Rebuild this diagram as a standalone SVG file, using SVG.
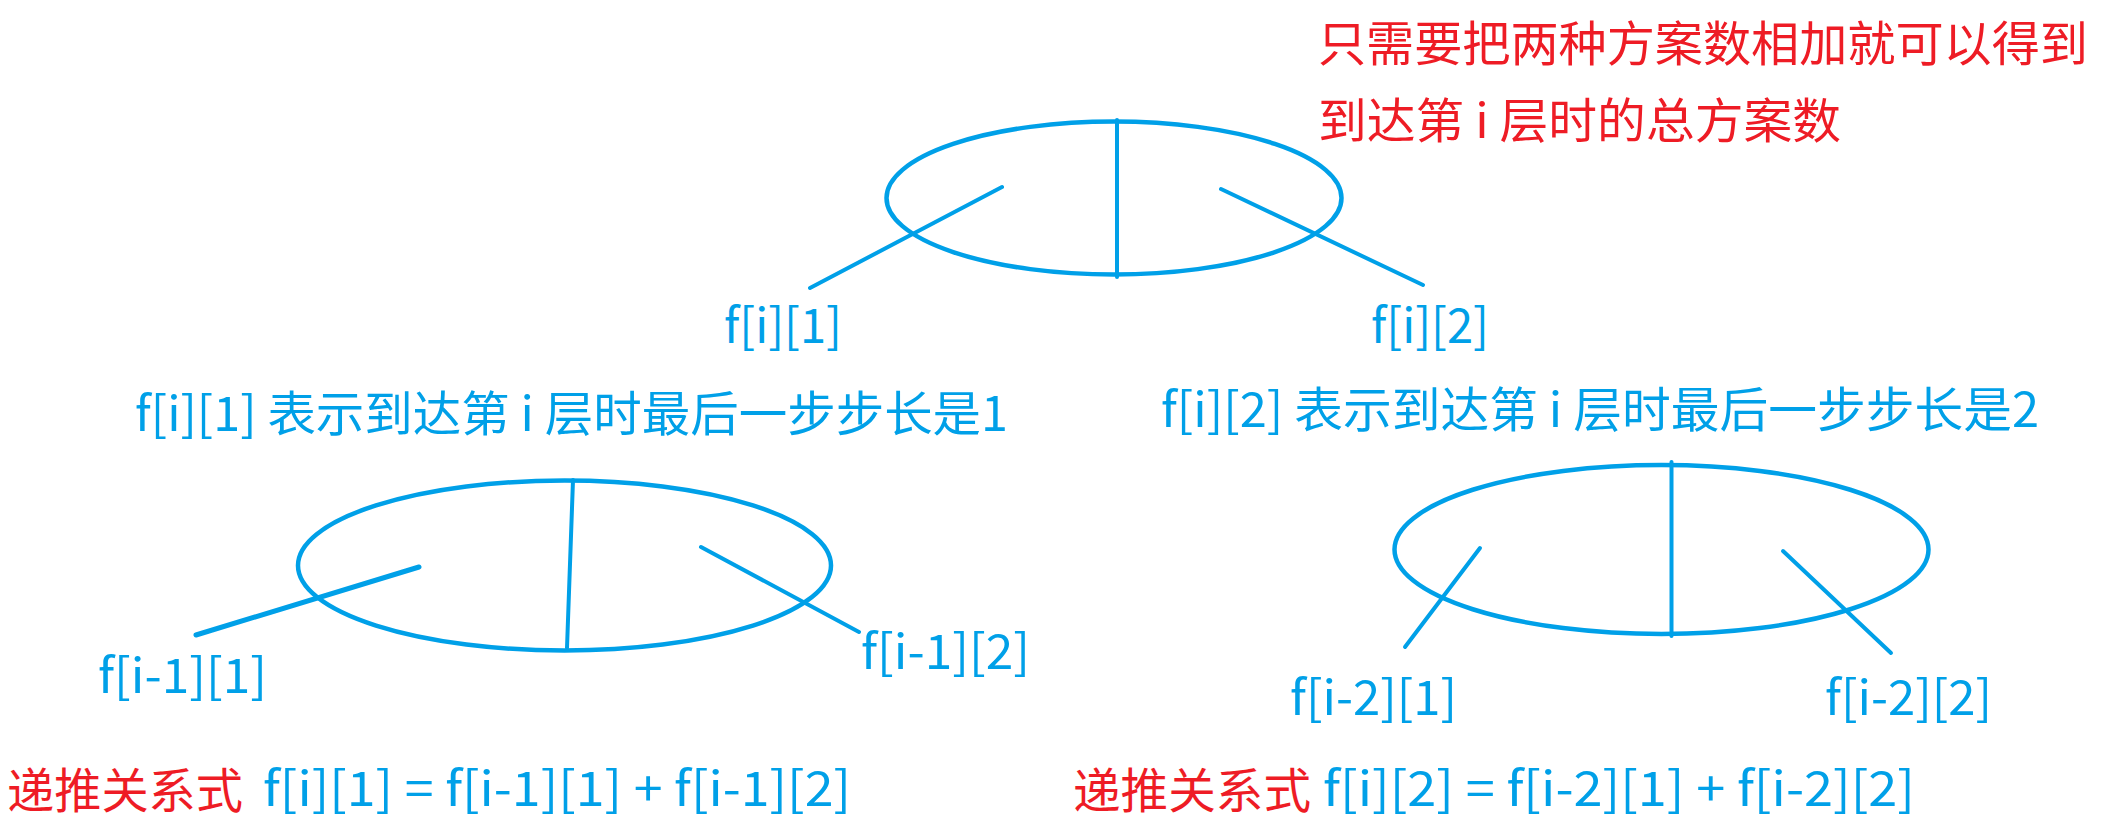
<svg xmlns="http://www.w3.org/2000/svg" width="2104" height="824" viewBox="0 0 2104 824">
<style>
.t{font-family:"Noto Sans CJK SC","Noto Sans",sans-serif;font-size:48px}
.b{fill:#00A0E8}
.r{fill:#EE1C25}
.e{fill:none;stroke:#00A0E8;stroke-width:4.5}
.l{fill:none;stroke:#00A0E8;stroke-width:4;stroke-linecap:round}
</style>
<rect width="2104" height="824" fill="#fff"/>
<g id="note">
<text class="t r" x="1318" y="61" textLength="770" lengthAdjust="spacingAndGlyphs">只需要把两种方案数相加就可以得到</text>
<text class="t r" x="1318" y="138" textLength="523" lengthAdjust="spacingAndGlyphs">到达第 i 层时的总方案数</text>
</g>
<g id="top-node">
<ellipse class="e" cx="1114" cy="198" rx="227.5" ry="76.5"/>
<line class="l" x1="1117" y1="120" x2="1117" y2="277"/>
</g>
<g id="label-fi1">
<text class="t b" x="724" y="343" textLength="118" lengthAdjust="spacingAndGlyphs">f[i][1]</text>
</g>
<g id="label-fi2">
<text class="t b" x="1371" y="343" textLength="118" lengthAdjust="spacingAndGlyphs">f[i][2]</text>
</g>
<g id="desc1">
<text class="t b" x="135" y="431" textLength="873" lengthAdjust="spacingAndGlyphs">f[i][1] 表示到达第 i 层时最后一步步长是1</text>
</g>
<g id="desc2">
<text class="t b" x="1161" y="427" textLength="878" lengthAdjust="spacingAndGlyphs">f[i][2] 表示到达第 i 层时最后一步步长是2</text>
</g>
<g id="left-node">
<ellipse class="e" cx="564.5" cy="565.5" rx="266.5" ry="85"/>
<line class="l" x1="573" y1="480" x2="567" y2="648"/>
</g>
<g id="right-node">
<ellipse class="e" cx="1661.5" cy="549.5" rx="267" ry="84.5"/>
<line class="l" x1="1671.5" y1="462" x2="1671.5" y2="636"/>
</g>
<g id="label-fi-1-1">
<text class="t b" x="98" y="693" textLength="169" lengthAdjust="spacingAndGlyphs">f[i-1][1]</text>
</g>
<g id="label-fi-1-2">
<text class="t b" x="861" y="669" textLength="169" lengthAdjust="spacingAndGlyphs">f[i-1][2]</text>
</g>
<g id="label-fi-2-1">
<text class="t b" x="1290" y="715" textLength="167" lengthAdjust="spacingAndGlyphs">f[i-2][1]</text>
</g>
<g id="label-fi-2-2">
<text class="t b" x="1825" y="715" textLength="167" lengthAdjust="spacingAndGlyphs">f[i-2][2]</text>
</g>
<g id="formula1">
<text class="t r" x="7" y="808" textLength="236" lengthAdjust="spacingAndGlyphs">递推关系式</text>
<text class="t b" x="263" y="806" textLength="588" lengthAdjust="spacingAndGlyphs">f[i][1] = f[i-1][1] + f[i-1][2]</text>
</g>
<g id="formula2">
<text class="t r" x="1073" y="808" textLength="238" lengthAdjust="spacingAndGlyphs">递推关系式</text>
<text class="t b" x="1323" y="806" textLength="592" lengthAdjust="spacingAndGlyphs">f[i][2] = f[i-2][1] + f[i-2][2]</text>
</g>
<g id="connectors">
<line class="l" x1="1002" y1="187" x2="810" y2="288"/>
<line class="l" x1="1221" y1="189" x2="1423" y2="285"/>
<line class="l" x1="419" y1="567" x2="196" y2="635" style="stroke-width:5"/>
<line class="l" x1="701" y1="547" x2="859" y2="632"/>
<line class="l" x1="1480" y1="548" x2="1405" y2="647"/>
<line class="l" x1="1783" y1="551" x2="1891" y2="653"/>
</g>
</svg>
